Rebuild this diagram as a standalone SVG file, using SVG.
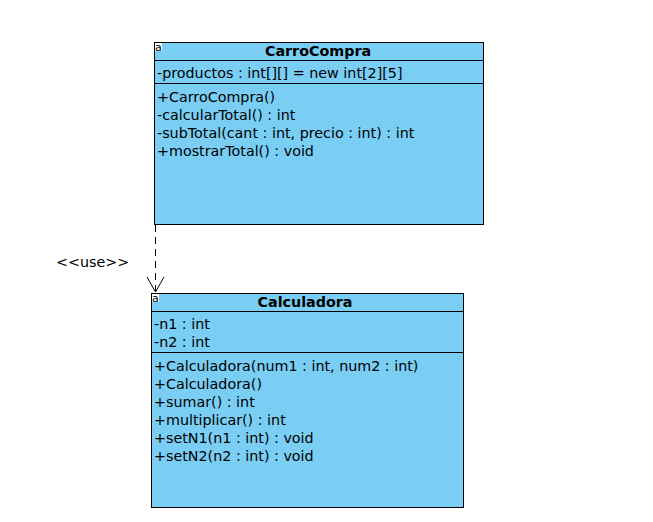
<svg xmlns="http://www.w3.org/2000/svg" width="653" height="522" viewBox="0 0 653 522">
<style>
.box{fill:#7acef4;stroke:#000;stroke-width:1}
.sep{stroke:#000;stroke-width:1}
.t{font-family:"DejaVu Sans",sans-serif;font-size:14.3px;fill:#000}
.title{font-family:"DejaVu Sans",sans-serif;font-size:14.3px;font-weight:bold;fill:#000}
.ico{fill:#fff}
.icot{font-family:"DejaVu Sans",sans-serif;font-size:11px;fill:#000}
.conn{fill:none;stroke:#000;stroke-width:1}
</style>
<rect width="653" height="522" fill="#fff"/>
<g id="connectors">
<line class="conn" x1="155.5" y1="225" x2="155.5" y2="291" stroke-dasharray="7,5"/>
<polyline class="conn" points="147,277 155.5,292 164,277"/>
<text class="t" x="56" y="267">&lt;&lt;use&gt;&gt;</text>
</g>
<g id="CarroCompra">
<rect class="box" x="154.5" y="42.5" width="329" height="182"/>
<line class="sep" x1="154.5" y1="60.5" x2="483.5" y2="60.5"/>
<line class="sep" x1="154.5" y1="83.5" x2="483.5" y2="83.5"/>
<rect class="ico" x="155" y="43" width="7" height="8"/>
<text class="icot" x="155" y="51">a</text>
<text class="title" x="318" y="55.5" text-anchor="middle">CarroCompra</text>
<text class="t" x="157" y="77.5">-productos : int[][] = new int[2][5]</text>
<text class="t" x="157" y="101.5">+CarroCompra()</text>
<text class="t" x="157" y="119.5">-calcularTotal() : int</text>
<text class="t" x="157" y="137.5">-subTotal(cant : int, precio : int) : int</text>
<text class="t" x="157" y="155.5">+mostrarTotal() : void</text>
</g>
<g id="Calculadora">
<rect class="box" x="151.5" y="293.5" width="312" height="214"/>
<line class="sep" x1="151.5" y1="311.5" x2="463.5" y2="311.5"/>
<line class="sep" x1="151.5" y1="352.5" x2="463.5" y2="352.5"/>
<rect class="ico" x="152" y="294" width="7" height="8"/>
<text class="icot" x="152" y="302">a</text>
<text class="title" x="305" y="306.5" text-anchor="middle">Calculadora</text>
<text class="t" x="154" y="328.5">-n1 : int</text>
<text class="t" x="154" y="346.5">-n2 : int</text>
<text class="t" x="154" y="370.5">+Calculadora(num1 : int, num2 : int)</text>
<text class="t" x="154" y="388.5">+Calculadora()</text>
<text class="t" x="154" y="406.5">+sumar() : int</text>
<text class="t" x="154" y="424.5">+multiplicar() : int</text>
<text class="t" x="154" y="442.5">+setN1(n1 : int) : void</text>
<text class="t" x="154" y="460.5">+setN2(n2 : int) : void</text>
</g>
</svg>
